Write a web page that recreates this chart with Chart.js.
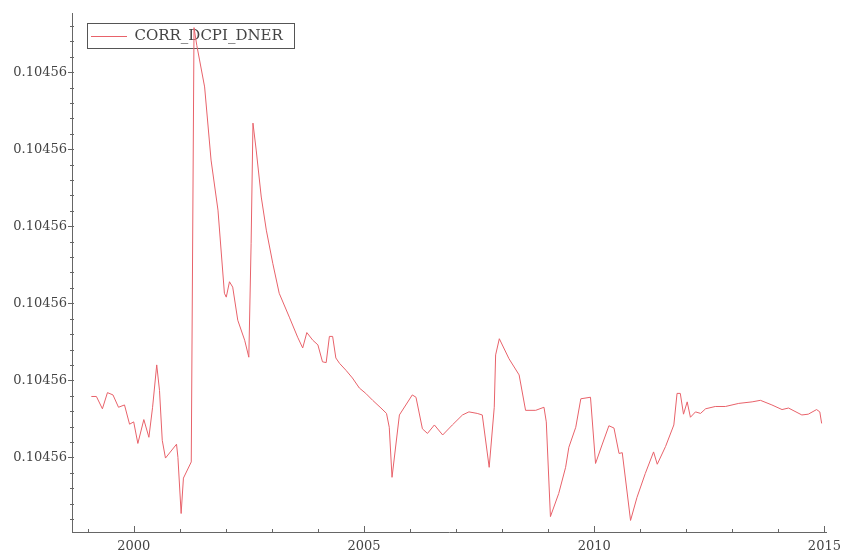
<!DOCTYPE html>
<html lang="en">
<head>
    <meta charset="UTF-8">
    <title>CORR_DCPI_DNER</title>
    <script src="https://cdn.jsdelivr.net/npm/chart.js"></script>
    <style>
        body { margin: 0; background: #fff; }
    </style>
</head>
<body>
    <canvas id="canvas" width="848" height="553"></canvas>
    <script>
        // series (decimal years, value in tick-step units)
        const seriesName = "CORR_DCPI_DNER";
        const years = [
            1999.08, 1999.19, 1999.32, 1999.43, 1999.55, 1999.67, 1999.80, 1999.91, 2000.00, 2000.09,
            2000.22, 2000.33, 2000.41, 2000.50, 2000.56, 2000.62, 2000.69, 2000.93, 2000.96, 2001.03,
            2001.08, 2001.25, 2001.31, 2001.37, 2001.43, 2001.54, 2001.68, 2001.83, 2001.97, 2002.01,
            2002.08, 2002.15, 2002.26, 2002.41, 2002.50, 2002.55, 2002.59, 2002.66, 2002.77, 2002.88,
            2003.02, 2003.16, 2003.38, 2003.56, 2003.67, 2003.76, 2003.89, 2004.00, 2004.10, 2004.18,
            2004.25, 2004.32, 2004.39, 2004.47, 2004.61, 2004.75, 2004.90, 2005.04, 2005.19, 2005.37,
            2005.49, 2005.55, 2005.61, 2005.77, 2006.05, 2006.13, 2006.27, 2006.38, 2006.53, 2006.71,
            2006.92, 2007.14, 2007.28, 2007.46, 2007.57, 2007.72, 2007.83, 2007.86, 2007.94, 2008.15,
            2008.37, 2008.51, 2008.73, 2008.91, 2008.96, 2009.05, 2009.23, 2009.38, 2009.45, 2009.60,
            2009.71, 2009.92, 2010.03, 2010.17, 2010.32, 2010.43, 2010.54, 2010.61, 2010.79, 2010.93,
            2011.11, 2011.29, 2011.37, 2011.55, 2011.73, 2011.80, 2011.87, 2011.94, 2012.02, 2012.09,
            2012.20, 2012.31, 2012.42, 2012.63, 2012.85, 2013.14, 2013.43, 2013.61, 2013.86, 2014.08,
            2014.22, 2014.51, 2014.65, 2014.83, 2014.90, 2014.94
        ];
        const values = [
            1.79, 1.79, 1.63, 1.84, 1.81, 1.65, 1.68, 1.43, 1.46, 1.18,
            1.49, 1.26, 1.65, 2.20, 1.87, 1.22, 0.99, 1.17, 1.00, 0.27,
            0.73, 0.94, 6.58, 6.35, 6.16, 5.81, 4.86, 4.21, 3.13, 3.08,
            3.28, 3.21, 2.78, 2.52, 2.30, 3.78, 5.34, 4.99, 4.38, 3.95,
            3.52, 3.13, 2.82, 2.56, 2.42, 2.62, 2.52, 2.46, 2.24, 2.23,
            2.57, 2.57, 2.29, 2.22, 2.13, 2.03, 1.90, 1.83, 1.74, 1.64,
            1.57, 1.39, 0.74, 1.55, 1.81, 1.78, 1.37, 1.31, 1.42, 1.29,
            1.42, 1.55, 1.59, 1.57, 1.55, 0.87, 1.65, 2.33, 2.54, 2.28,
            2.07, 1.61, 1.61, 1.65, 1.46, 0.23, 0.53, 0.87, 1.13, 1.39,
            1.76, 1.78, 0.92, 1.16, 1.41, 1.38, 1.05, 1.06, 0.18, 0.48,
            0.79, 1.07, 0.91, 1.14, 1.42, 1.83, 1.83, 1.56, 1.72, 1.52,
            1.59, 1.57, 1.63, 1.66, 1.66, 1.70, 1.72, 1.74, 1.68, 1.62,
            1.64, 1.55, 1.56, 1.62, 1.59, 1.44
        ];

        // tick labels
        const xLabelYears = [2000, 2005, 2010, 2015];
        const yTicks = [1, 2, 3, 4, 5, 6];
        const yTickLabels = ["0.10456", "0.10456", "0.10456", "0.10456", "0.10456", "0.10456"];

        const axisColor = "#666";
        const textColor = "#444";

        function isMajorY(v) {
            return yTicks.some(t => Math.abs(t - v) < 1e-6);
        }

        // small tick marks like the original plot: x ticks point inward, y ticks cross the axis
        const axisTicks = {
            id: "axisTicks",
            afterDraw(chart) {
                const { ctx, chartArea: a } = chart;
                const x = chart.scales.x, y = chart.scales.y;
                ctx.save();
                ctx.strokeStyle = axisColor;
                ctx.lineWidth = 1;
                ctx.beginPath();
                x.ticks.forEach(t => {
                    const px = Math.round(x.getPixelForValue(t.value)) + 0.5;
                    const len = xLabelYears.includes(t.value) ? 6 : 3;
                    ctx.moveTo(px, a.bottom);
                    ctx.lineTo(px, a.bottom - len);
                });
                y.ticks.forEach(t => {
                    const py = Math.round(y.getPixelForValue(t.value)) + 0.5;
                    const major = isMajorY(t.value);
                    ctx.moveTo(a.left - (major ? 4 : 2), py);
                    ctx.lineTo(a.left + 2, py);
                });
                ctx.stroke();
                ctx.restore();
            }
        };

        // nudge the in-plot legend down/right a bit, then frame it
        const legendFrame = {
            id: "legendFrame",
            afterLayout(chart) {
                const lg = chart.legend;
                if (!lg) return;
                const dx = 4, dy = 14;
                lg.left += dx; lg.right += dx;
                lg.top += dy; lg.bottom += dy;
                lg.legendHitBoxes.forEach(b => { b.left += dx; b.top += dy; });
            },
            beforeDatasetsDraw(chart) {
                const box = chart.legend && chart.legend.legendHitBoxes[0];
                if (!box) return;
                const ctx = chart.ctx;
                ctx.save();
                ctx.strokeStyle = "#555";
                ctx.lineWidth = 1;
                ctx.strokeRect(Math.round(box.left - 7) - 0.5, Math.round(box.top - 6) + 0.5,
                    Math.round(box.width + 15), 25);
                ctx.restore();
            }
        };

        const points = years.map((yr, i) => ({ x: yr, y: values[i] }));

        const config = {
            type: "line",
            data: {
                datasets: [{
                    label: seriesName,
                    data: points,
                    borderColor: "#e8626a",
                    backgroundColor: "#e8626a",
                    borderWidth: 1,
                    pointRadius: 0,
                    tension: 0,
                    fill: false
                }]
            },
            options: {
                responsive: false,
                animation: false,
                devicePixelRatio: 1,
                layout: { padding: { top: 13, right: 20, left: 0, bottom: 0 } },
                plugins: {
                    tooltip: { enabled: false },
                    legend: {
                        position: "chartArea",
                        align: "start",
                        labels: {
                            usePointStyle: true,
                            pointStyle: "line",
                            pointStyleWidth: 36,
                            padding: 15,
                            color: textColor,
                            font: { family: "DejaVu Serif", size: 15 }
                        }
                    }
                },
                scales: {
                    x: {
                        type: "linear",
                        min: 1998.66,
                        max: 2015.04,
                        afterBuildTicks(scale) {
                            const t = [];
                            for (let yr = 1999; yr <= 2015; yr++) t.push({ value: yr });
                            scale.ticks = t;
                        },
                        afterFit(scale) { scale.height = 21; },
                        grid: { display: true, drawOnChartArea: false, drawTicks: false },
                        border: { color: axisColor, width: 1 },
                        ticks: {
                            autoSkip: false,
                            maxRotation: 0,
                            padding: 7,
                            color: textColor,
                            font: { family: "DejaVu Serif", size: 13 },
                            callback: v => xLabelYears.includes(v) ? String(v) : ""
                        }
                    },
                    y: {
                        type: "linear",
                        min: 0.03,
                        max: 6.77,
                        afterBuildTicks(scale) {
                            const t = [];
                            for (let k = 1; k <= 33; k++) t.push({ value: k * 0.2 });
                            scale.ticks = t;
                        },
                        afterFit(scale) { scale.width = 72; },
                        grid: { display: true, drawOnChartArea: false, drawTicks: false },
                        border: { color: axisColor, width: 1 },
                        ticks: {
                            autoSkip: false,
                            padding: 5,
                            color: textColor,
                            font: { family: "DejaVu Serif", size: 13 },
                            callback: v => {
                                const i = yTicks.findIndex(t => Math.abs(t - v) < 1e-6);
                                return i >= 0 ? yTickLabels[i] : "";
                            }
                        }
                    }
                }
            },
            plugins: [axisTicks, legendFrame]
        };

        new Chart(document.getElementById("canvas").getContext("2d"), config);
    </script>
</body>
</html>
